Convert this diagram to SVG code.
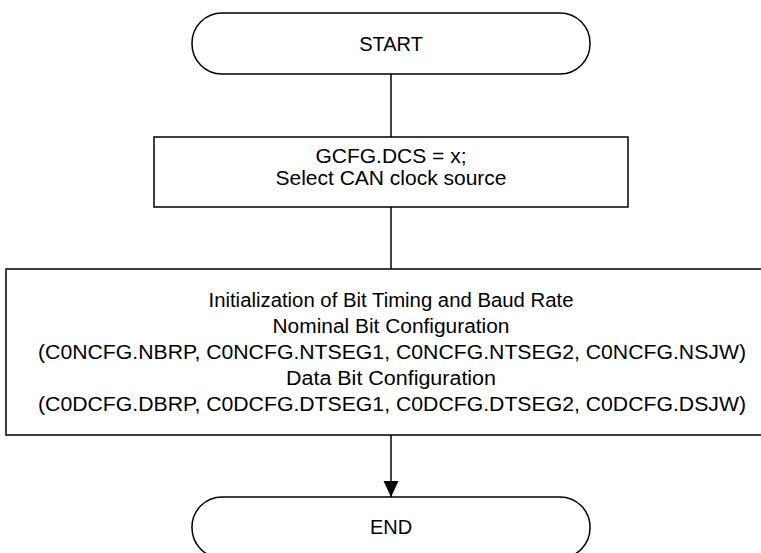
<svg xmlns="http://www.w3.org/2000/svg" width="761" height="553" viewBox="0 0 761 553">
<style>
.s{fill:#fff;stroke:#000;stroke-width:1.5}
.t{font-family:"Liberation Sans",Arial,sans-serif;font-size:20px;fill:#000;text-anchor:middle}
.c{stroke:#000;stroke-width:1.5;fill:none}
</style>
<defs>
<marker id="a" markerWidth="16" markerHeight="16" refX="16" refY="8" orient="auto" markerUnits="userSpaceOnUse">
<path d="M0,0.5 L16,8 L0,15.5 Z" fill="#000"/>
</marker>
</defs>
<g id="connectors">
<line class="c" x1="391" y1="74" x2="391" y2="137"/>
<line class="c" x1="391" y1="207" x2="391" y2="269"/>
<line class="c" x1="391" y1="435" x2="391" y2="497" marker-end="url(#a)"/>
</g>
<g id="start">
<rect class="s" x="192" y="13" width="398" height="61" rx="30" ry="30"/>
<text class="t" x="391" y="51">START</text>
</g>
<g id="dcs">
<rect class="s" x="154" y="137" width="474" height="70"/>
<text class="t" x="391" y="163" style="font-size:21px">GCFG.DCS = x;</text>
<text class="t" x="391" y="185" style="font-size:21px">Select CAN clock source</text>
</g>
<g id="init">
<rect class="s" x="6" y="269" width="770" height="166"/>
<text class="t" x="391" y="307" textLength="365" lengthAdjust="spacingAndGlyphs">Initialization of Bit Timing and Baud Rate</text>
<text class="t" x="391" y="333" textLength="237" lengthAdjust="spacingAndGlyphs">Nominal Bit Configuration</text>
<text class="t" x="392" y="359" textLength="708" lengthAdjust="spacingAndGlyphs">(C0NCFG.NBRP, C0NCFG.NTSEG1, C0NCFG.NTSEG2, C0NCFG.NSJW)</text>
<text class="t" x="391" y="385" textLength="210" lengthAdjust="spacingAndGlyphs">Data Bit Configuration</text>
<text class="t" x="392" y="411" textLength="708" lengthAdjust="spacingAndGlyphs">(C0DCFG.DBRP, C0DCFG.DTSEG1, C0DCFG.DTSEG2, C0DCFG.DSJW)</text>
</g>
<g id="end">
<rect class="s" x="192" y="497" width="398" height="61" rx="30" ry="30"/>
<text class="t" x="391" y="534">END</text>
</g>
</svg>
